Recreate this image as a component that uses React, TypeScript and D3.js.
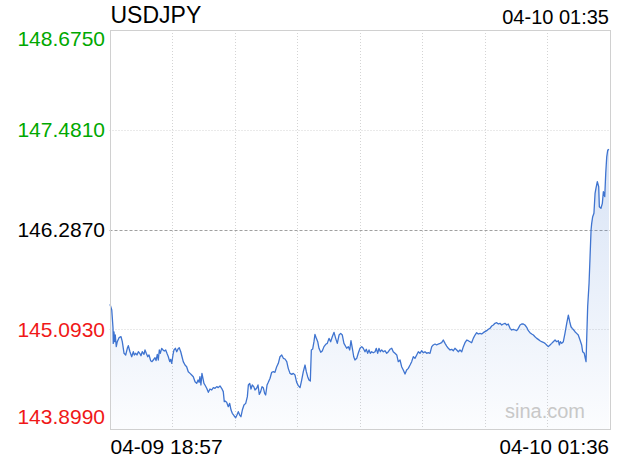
import React from "react";
import * as d3 from "d3";

const symbol = "USDJPY";
const headerTime = "04-10 01:35";
const xTickLabels = ["04-09 18:57", "04-10 01:36"];
const yTickValues = [148.675, 147.481, 146.287, 145.093, 143.899];
const prevClose = 146.287;
const totalMinutes = 399;
const watermark = "sina.com";

// minutes since 04-09 18:57
const minutes = [
  0.4, 1.8, 2.8, 3.0, 3.6, 4.1, 4.6, 5.4, 6.2, 7.6, 9.2, 10.2, 11.6, 12.9, 14.2, 15.0, 16.3, 17.7, 19.0, 19.8,
  20.9, 21.9, 23.0, 24.1, 25.1, 26.1, 27.5, 28.3, 29.3, 30.5, 31.5, 32.8, 33.9, 34.9, 36.3, 37.1, 38.1, 38.9, 39.7, 40.5,
  41.6, 42.7, 43.7, 44.8, 45.8, 46.9, 48.0, 48.8, 49.6, 50.6, 51.4, 52.5, 53.6, 54.6, 55.6, 56.8, 57.8, 58.8, 60.2, 61.5,
  62.8, 64.2, 65.5, 66.8, 68.2, 69.5, 70.6, 71.4, 72.1, 72.9, 73.7, 74.5, 75.3, 76.1, 77.5, 78.8, 80.1, 81.5, 82.8, 84.1,
  85.5, 86.7, 88.1, 89.4, 90.7, 91.5, 92.1, 93.4, 94.7, 95.8, 96.9, 97.9, 99.3, 100.6, 101.6, 102.7, 103.8, 104.8, 105.9, 107.2,
  108.6, 109.9, 110.7, 111.8, 112.8, 113.8, 115.0, 116.0, 117.3, 118.4, 119.4, 120.5, 121.6, 122.6, 123.7, 124.5, 125.6, 126.6, 128.0, 129.3,
  130.6, 131.9, 133.3, 134.6, 135.9, 137.3, 138.6, 139.9, 141.3, 142.5, 143.9, 145.3, 146.5, 147.9, 149.2, 150.5, 151.9, 153.2, 154.5, 155.9,
  156.9, 158.0, 159.0, 160.1, 160.9, 162.0, 163.0, 163.8, 164.9, 166.0, 167.0, 168.4, 169.6, 171.0, 172.4, 173.6, 175.0, 176.3, 177.6, 179.0,
  180.3, 181.6, 183.0, 184.3, 185.6, 186.9, 189.1, 190.4, 191.5, 192.5, 193.6, 194.7, 195.7, 197.1, 198.3, 199.7, 201.1, 202.3, 203.7, 204.7,
  205.8, 206.9, 207.9, 209.0, 210.3, 211.7, 212.7, 213.8, 214.8, 215.9, 217.0, 218.3, 219.6, 221.0, 222.3, 223.6, 225.0, 226.2, 227.6, 229.0,
  230.2, 231.6, 232.9, 234.2, 235.6, 236.9, 238.2, 239.6, 240.9, 242.2, 243.5, 244.9, 246.2, 247.5, 248.9, 250.2, 251.5, 252.9, 254.1, 255.5,
  256.9, 258.1, 259.5, 260.8, 262.1, 263.5, 264.8, 266.1, 267.5, 268.8, 270.1, 271.5, 272.8, 274.1, 275.4, 276.8, 278.1, 279.4, 280.8, 282.1,
  283.4, 284.8, 286.0, 287.4, 288.7, 290.0, 291.4, 292.7, 294.0, 295.4, 296.7, 298.0, 299.3, 300.7, 302.0, 303.3, 304.7, 306.0, 307.3, 308.7,
  310.0, 311.3, 312.7, 313.9, 315.3, 316.7, 317.9, 319.3, 320.6, 321.9, 323.3, 324.6, 325.9, 327.3, 328.6, 329.9, 331.2, 332.6, 333.9, 335.2,
  336.6, 337.9, 339.2, 340.6, 341.8, 343.2, 344.5, 345.8, 347.2, 348.5, 349.8, 351.2, 352.5, 353.8, 355.2, 356.5, 357.8, 358.6, 359.4, 360.5,
  361.8, 363.1, 364.5, 365.8, 366.9, 367.9, 368.9, 370.1, 371.1, 372.4, 373.7, 375.1, 376.4, 377.2, 378.5, 379.3, 379.9, 380.4, 381.2, 382.3,
  383.1, 383.9, 384.4, 385.2, 386.2, 387.1, 387.8, 388.9, 390.0, 390.5, 391.8, 392.9, 393.7, 394.8, 395.6, 396.4, 397.2, 398.2,
];

const prices = [
  145.392, 145.323, 145.108, 144.924, 145.060, 144.944, 145.024, 144.885, 144.944, 144.992, 145.004, 144.944, 144.805, 144.785, 144.865, 144.896, 144.824, 144.764, 144.824, 144.785,
  144.805, 144.785, 144.824, 144.805, 144.776, 144.824, 144.793, 144.845, 144.805, 144.764, 144.785, 144.717, 144.705, 144.725, 144.753, 144.717, 144.793, 144.725, 144.845, 144.805,
  144.865, 144.845, 144.833, 144.845, 144.805, 144.764, 144.705, 144.733, 144.685, 144.785, 144.845, 144.865, 144.824, 144.857, 144.872, 144.824, 144.764, 144.705, 144.665, 144.645,
  144.585, 144.565, 144.545, 144.525, 144.465, 144.445, 144.485, 144.458, 144.525, 144.426, 144.565, 144.505, 144.445, 144.426, 144.386, 144.338, 144.378, 144.366, 144.394, 144.386,
  144.406, 144.394, 144.414, 144.386, 144.346, 144.226, 144.234, 144.218, 144.166, 144.206, 144.126, 144.087, 144.058, 144.034, 144.066, 144.106, 144.066, 144.046, 144.126, 144.186,
  144.206, 144.286, 144.426, 144.445, 144.378, 144.426, 144.406, 144.366, 144.386, 144.426, 144.314, 144.346, 144.406, 144.394, 144.326, 144.306, 144.426, 144.458, 144.506, 144.578,
  144.585, 144.578, 144.645, 144.685, 144.764, 144.785, 144.745, 144.737, 144.705, 144.625, 144.565, 144.553, 144.565, 144.545, 144.458, 144.418, 144.394, 144.485, 144.585, 144.665,
  144.585, 144.525, 144.485, 144.473, 144.845, 144.857, 144.944, 145.032, 144.984, 144.944, 144.865, 144.817, 144.833, 144.885, 144.913, 144.924, 144.984, 144.944, 145.004, 145.056,
  144.984, 144.924, 145.024, 145.044, 145.024, 144.924, 144.865, 144.885, 144.845, 144.956, 144.865, 144.764, 144.725, 144.745, 144.805, 144.865, 144.885, 144.865, 144.824, 144.853,
  144.805, 144.845, 144.805, 144.824, 144.812, 144.824, 144.865, 144.805, 144.865, 144.824, 144.845, 144.824, 144.836, 144.805, 144.824, 144.853, 144.865, 144.824, 144.805, 144.785,
  144.705, 144.725, 144.645, 144.605, 144.557, 144.605, 144.625, 144.665, 144.705, 144.764, 144.745, 144.785, 144.824, 144.805, 144.836, 144.812, 144.824, 144.805, 144.812, 144.805,
  144.885, 144.905, 144.916, 144.905, 144.916, 144.924, 144.932, 144.964, 144.924, 144.892, 144.865, 144.845, 144.853, 144.836, 144.865, 144.845, 144.824, 144.845, 144.824, 144.885,
  144.932, 144.964, 144.956, 144.944, 144.932, 144.984, 145.024, 145.052, 145.036, 145.044, 145.036, 145.052, 145.064, 145.076, 145.093, 145.104, 145.132, 145.144, 145.164, 145.172,
  145.156, 145.164, 145.144, 145.156, 145.164, 145.144, 145.156, 145.104, 145.084, 145.092, 145.084, 145.076, 145.104, 145.144, 145.156, 145.156, 145.144, 145.116, 145.076, 145.052,
  145.036, 145.024, 145.004, 144.984, 144.972, 144.956, 144.944, 144.937, 144.924, 144.905, 144.885, 144.905, 144.924, 144.944, 144.964, 144.944, 144.956, 144.905, 144.944, 144.924,
  144.944, 145.044, 145.164, 145.263, 145.183, 145.123, 145.104, 145.084, 145.064, 145.044, 145.024, 144.964, 144.905, 144.824, 144.805, 144.745, 144.705, 144.964, 145.363, 145.643,
  145.961, 146.281, 146.361, 146.440, 146.481, 146.720, 146.780, 146.859, 146.799, 146.560, 146.541, 146.600, 146.739, 146.680, 146.960, 147.157, 147.237, 147.246,
];

const W = 620;
const H = 460;
const left = 109.5;
const right = 610;
const top = 30;
const bottom = 429;
const FONT = "'Liberation Sans', Arial, Helvetica, sans-serif";

export default function App() {
  const data = minutes.map((m, i) => ({ m, p: prices[i] }));
  const x = d3.scaleLinear().domain([0, totalMinutes]).range([left, right]);
  const y = d3
    .scaleLinear()
    .domain([yTickValues[yTickValues.length - 1], yTickValues[0]])
    .range([bottom, top]);

  const line = d3
    .line<{ m: number; p: number }>()
    .x((d) => x(d.m))
    .y((d) => y(d.p));
  const area = d3
    .area<{ m: number; p: number }>()
    .x((d) => x(d.m))
    .y0(bottom)
    .y1((d) => y(d.p));

  const vGrid = d3.range(1, 8).map((k) => left + ((right - left) * k) / 8);

  const labelColor = (v: number) =>
    v > prevClose + 1e-6 ? "#00a800" : v < prevClose - 1e-6 ? "#f01818" : "#000";

  return (
    <svg
      width={W}
      height={H}
      style={{ position: "absolute", left: 0, top: 0, display: "block", background: "#fff" }}
      fontFamily={FONT}
    >
      <defs>
        <linearGradient id="fillGrad" gradientUnits="userSpaceOnUse" x1="0" y1={top} x2="0" y2={bottom}>
          <stop offset="0%" stopColor="#4a7fd4" stopOpacity={0.3} />
          <stop offset="100%" stopColor="#4a7fd4" stopOpacity={0.02} />
        </linearGradient>
      </defs>

      {/* vertical grid */}
      {vGrid.map((gx, i) => (
        <line
          key={"v" + i}
          x1={Math.round(gx) + 0.5}
          x2={Math.round(gx) + 0.5}
          y1={top}
          y2={bottom}
          stroke="#d4d4d4"
          strokeWidth={1}
          strokeDasharray="1,2"
        />
      ))}
      {/* horizontal grid */}
      {yTickValues.slice(1, -1).map((v, i) => {
        const gy = Math.round(y(v)) + 0.5;
        const isPrev = Math.abs(v - prevClose) < 1e-6;
        return (
          <line
            key={"h" + i}
            x1={left}
            x2={right}
            y1={gy}
            y2={gy}
            stroke={isPrev ? "#a0a0a0" : "#d4d4d4"}
            strokeWidth={1}
            strokeDasharray={isPrev ? "3,2" : "1,2"}
          />
        );
      })}

      <path d={area(data) || ""} fill="url(#fillGrad)" />
      <path d={line(data) || ""} fill="none" stroke="#3f74d0" strokeWidth={1.3} strokeLinejoin="round" />

      {/* frame */}
      <rect
        x={Math.round(left) + 0.5}
        y={top + 0.5}
        width={Math.round(right - left) - 1}
        height={bottom - top}
        fill="none"
        stroke="#d0d0d0"
        strokeWidth={1}
      />

      <text x={left + 1} y={23} fontSize={23} fill="#000">
        {symbol}
      </text>
      <text x={right - 1} y={24} fontSize={20} fill="#000" textAnchor="end">
        {headerTime}
      </text>

      {yTickValues.map((v, i) => {
        const gy = y(v);
        let base = gy + 7.5;
        if (i === 0) base = gy + 16;
        if (i === yTickValues.length - 1) base = gy - 5;
        return (
          <text key={"yl" + i} x={105} y={base} fontSize={21} fill={labelColor(v)} textAnchor="end">
            {v.toFixed(4)}
          </text>
        );
      })}

      <text x={left + 1} y={454} fontSize={21} fill="#000">
        {xTickLabels[0]}
      </text>
      <text x={right - 1} y={454} fontSize={20.5} fill="#000" textAnchor="end">
        {xTickLabels[1]}
      </text>

      <text x={585} y={418} fontSize={20} fill="#c8c8c8" textAnchor="end">
        {watermark}
      </text>
    </svg>
  );
}
